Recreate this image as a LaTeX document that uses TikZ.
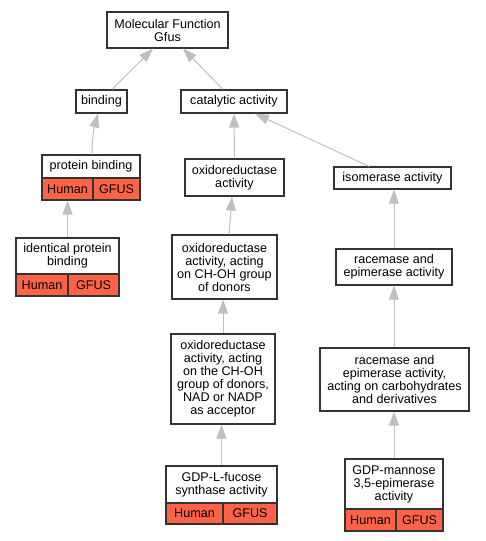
\documentclass[tikz,border=0pt]{standalone}
\usepackage{fontspec}
\setmainfont{Liberation Sans}
\usetikzlibrary{arrows.meta}
\definecolor{genered}{HTML}{FF6347}
\begin{document}
\begin{tikzpicture}[x=1pt,y=-1pt,
  term/.style={draw=black!80, line width=1.2pt, fill=white, align=center, inner sep=0pt, font=\fontsize{12.6}{13}\selectfont},
  gene/.style={term, fill=genered},
  isa/.style={draw=black!25, line width=1pt, -{Triangle[width=10pt,length=14pt]}}]
\useasboundingbox (0,0) rectangle (485,541);
\node[term, minimum width=121pt, minimum height=36pt] (mf) at (167.5,30){Molecular Function\\Gfus};
\node[term, minimum width=51pt, minimum height=23pt] (bind) at (101.5,101.5){binding};
\node[term, minimum width=106pt, minimum height=23pt] (cat) at (234,101.5){catalytic activity};
\node[term, minimum width=98pt, minimum height=23pt] (pbind) at (91,166.5){protein binding};
\node[gene, minimum width=51pt, minimum height=22pt] (pbindh) at (67.5,189){Human};
\node[gene, minimum width=47pt, minimum height=22pt] (pbindg) at (116.5,189){GFUS};
\node[term, minimum width=99pt, minimum height=37pt] (oxred) at (234.5,177.5){oxidoreductase\\activity};
\node[term, minimum width=117pt, minimum height=22pt] (isom) at (392.5,178){isomerase activity};
\node[term, minimum width=103pt, minimum height=36pt] (ipbind) at (67.5,256){identical protein\\binding};
\node[gene, minimum width=52pt, minimum height=22pt] (ipbindh) at (42,285){Human};
\node[gene, minimum width=51pt, minimum height=22pt] (ipbindg) at (93.5,285){GFUS};
\node[term, minimum width=105pt, minimum height=64pt] (choh) at (224.5,267){oxidoreductase\\activity, acting\\on CH-OH group\\of donors};
\node[term, minimum width=116pt, minimum height=36pt] (racem) at (394,267){racemase and\\epimerase activity};
\node[term, minimum width=104pt, minimum height=90pt] (nad) at (223,379){oxidoreductase\\activity, acting\\on the CH-OH\\group of donors,\\NAD or NADP\\as acceptor};
\node[term, minimum width=149pt, minimum height=63pt] (carbo) at (394.5,379.5){racemase and\\epimerase activity,\\acting on carbohydrates\\and derivatives};
\node[term, minimum width=111pt, minimum height=37pt] (fucose) at (221.5,484.5){GDP-L-fucose\\synthase activity};
\node[gene, minimum width=57pt, minimum height=21pt] (fucoseh) at (194.5,513.5){Human};
\node[gene, minimum width=54pt, minimum height=21pt] (fucoseg) at (250,513.5){GFUS};
\node[term, minimum width=98pt, minimum height=50pt] (mannose) at (394,484){GDP-mannose\\3,5-epimerase\\activity};
\node[gene, minimum width=51pt, minimum height=22pt] (mannoseh) at (370.5,520){Human};
\node[gene, minimum width=47pt, minimum height=22pt] (mannoseg) at (419.5,520){GFUS};
\draw[isa] ([xshift=10.5pt]bind.north) -- ([xshift=-14.5pt]mf.south);
\draw[isa] ([xshift=-11pt]cat.north) -- ([xshift=15.5pt]mf.south);
\draw[isa] ([xshift=1pt]pbind.north) .. controls (92,140) and (94,128) .. ([xshift=-3.5pt]bind.south);
\draw[isa] (oxred.north) -- (cat.south);
\draw[isa] ([xshift=-23.5pt]isom.north) -- ([xshift=21pt]cat.south);
\draw[isa] (ipbind.north) -- (pbindh.south);
\draw[isa] ([xshift=4.5pt]choh.north) -- ([xshift=-2.5pt]oxred.south);
\draw[isa] (nad.north) -- (choh.south -| nad.north);
\draw[isa] (racem.north) -- (isom.south -| racem.north);
\draw[isa] (carbo.north -| racem.south) -- (racem.south);
\draw[isa] (fucose.north) -- (nad.south -| fucose.north);
\draw[isa] (mannose.north) -- (carbo.south -| mannose.north);
\end{tikzpicture}
\end{document}
